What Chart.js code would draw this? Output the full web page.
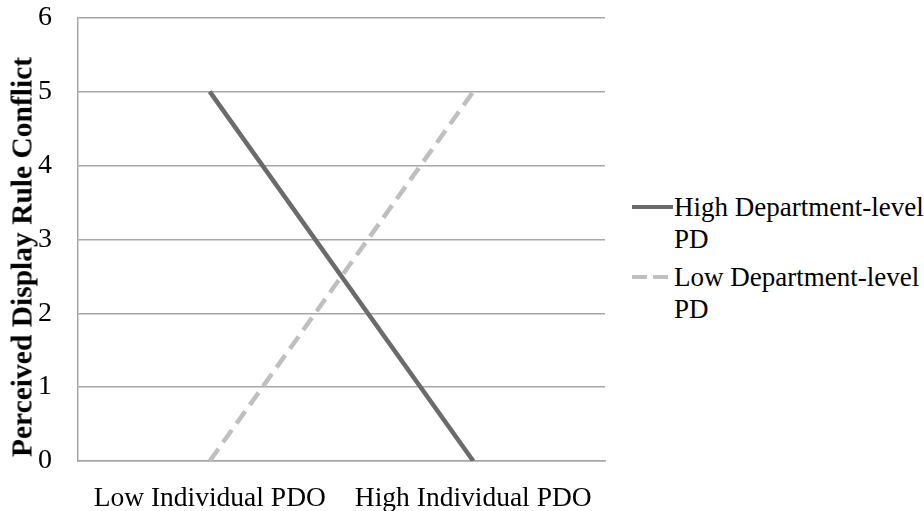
<!DOCTYPE html>
<html>
<head>
<meta charset="utf-8">
<script src="https://cdn.jsdelivr.net/npm/chart.js@4/dist/chart.umd.min.js"></script>
<style>
  html, body { margin: 0; padding: 0; background: #fff; overflow: hidden; }
  #wrap { position: relative; width: 924px; height: 511px; overflow: hidden; }
  #chart-box { position: absolute; left: 0; top: -25px; width: 615px; height: 553px; }
  #ytitle { position: absolute; left: 22px; top: 257px; transform: translate(-50%, -50%) rotate(-90deg); white-space: nowrap;
            font-family: "Liberation Serif", serif; font-weight: bold; font-size: 29.5px; color: #000; }
  #legend { position: absolute; left: 632px; top: 191px; font-family: "Liberation Serif", serif; font-size: 27px; color: #000; }
  .item { display: flex; align-items: flex-start; margin-bottom: 6px; }
  .swatch { width: 42px; height: 32px; position: relative; flex: none; }
  .swatch span { position: absolute; left: 0; top: 14px; width: 41px; height: 4px; background: #6b6b6b; }
  .swatch span.dash { background: repeating-linear-gradient(to right, #bfbfbf 0 15px, transparent 15px 21px); }
  .txt { line-height: 32px; font-family: "Liberation Serif", serif; }
</style>
</head>
<body>
<div id="wrap">
  <div id="chart-box"><canvas id="c"></canvas></div>
  <div id="ytitle"></div>
  <div id="legend"></div>
</div>
<script>
const categories = ['Low Individual PDO', 'High Individual PDO'];
const highDept = [5, 0];
const lowDept = [0, 5];
const seriesNames = ['High Department-level\nPD', 'Low Department-level\nPD'];
const yTicks = [0, 1, 2, 3, 4, 5, 6];
const yTitle = 'Perceived Display Rule Conflict';

const serif = "'Liberation Serif', 'Times New Roman', serif";

const chart = new Chart(document.getElementById('c'), {
    type: 'line',
    data: {
        labels: categories,
        datasets: [
            { label: seriesNames[0], data: highDept, borderColor: '#6b6b6b', borderWidth: 4.5, pointRadius: 0, tension: 0 },
            { label: seriesNames[1], data: lowDept, borderColor: '#bfbfbf', borderWidth: 4.5, borderDash: [15, 8], pointRadius: 0, tension: 0 }
        ]
    },
    options: {
        responsive: true, maintainAspectRatio: false, animation: false,
        layout: { padding: { top: 0, right: 10, bottom: 0, left: 12 } },
        plugins: { legend: { display: false }, tooltip: { enabled: false } },
        scales: {
            x: {
                offset: true,
                grid: { display: false },
                border: { display: true, color: '#a6a6a6', width: 1.5 },
                ticks: { color: '#000', font: { family: serif, size: 27.5 }, padding: 13, autoSkip: false, maxRotation: 0 }
            },
            y: {
                min: 0, max: 6,
                afterBuildTicks: axis => { axis.ticks = yTicks.map(v => ({ value: v })); },
                grid: { color: '#a6a6a6', lineWidth: 1.5, drawTicks: false },
                border: { display: true, color: '#a6a6a6', width: 1.5 },
                ticks: { color: '#000', font: { family: serif, size: 28 }, padding: 26 },
                title: { display: false }
            }
        }
    }
});

document.getElementById('ytitle').textContent = yTitle;

// html legend
const legend = document.getElementById('legend');
chart.data.datasets.forEach((ds, i) => {
    const item = document.createElement('div');
    item.className = 'item';
    item.innerHTML = '<div class="swatch"><span class="' + (i === 1 ? 'dash' : '') + '"></span></div>' +
        '<div class="txt">' + ds.label.replace('\n', '<br>') + '</div>';
    legend.appendChild(item);
});
</script>
</body>
</html>
